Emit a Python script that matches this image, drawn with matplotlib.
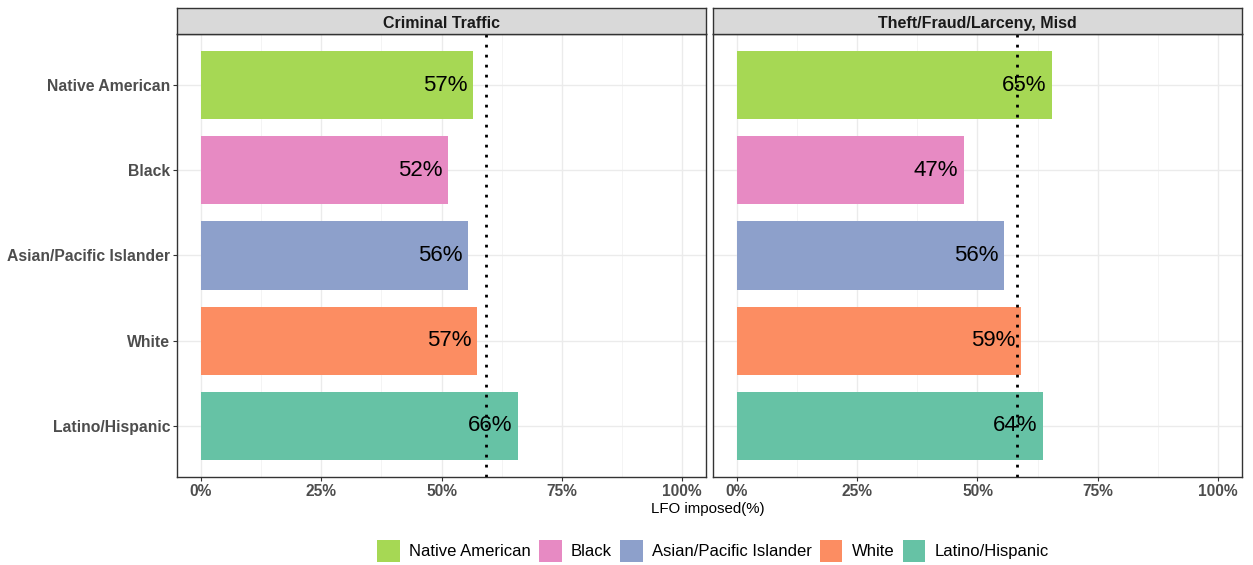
import matplotlib
matplotlib.use("Agg")
import matplotlib.pyplot as plt
from matplotlib.patches import Patch
from matplotlib.ticker import MultipleLocator

categories = ["Latino/Hispanic", "White", "Asian/Pacific Islander", "Black", "Native American"]
legend_order = ["Native American", "Black", "Asian/Pacific Islander", "White", "Latino/Hispanic"]
colors = {"Native American": "#A6D854", "Black": "#E78AC3",
          "Asian/Pacific Islander": "#8DA0CB", "White": "#FC8D62",
          "Latino/Hispanic": "#66C2A5"}
panels = ["Criminal Traffic", "Theft/Fraud/Larceny, Misd"]
values = {
    "Criminal Traffic": [65.9, 57.4, 55.5, 51.4, 56.6],
    "Theft/Fraud/Larceny, Misd": [63.7, 59.0, 55.6, 47.1, 65.4],
}
labels = {
    "Criminal Traffic": ["66%", "57%", "56%", "52%", "57%"],
    "Theft/Fraud/Larceny, Misd": ["64%", "59%", "56%", "47%", "65%"],
}
overall = {"Criminal Traffic": 59.2, "Theft/Fraud/Larceny, Misd": 58.3}
xticks = [0, 25, 50, 75, 100]
xticklabels = ["0%", "25%", "50%", "75%", "100%"]

W, H = 1253, 565
plt.rcParams['font.family'] = ['Liberation Sans', 'DejaVu Sans']
fig = plt.figure(figsize=(W / 100, H / 100), dpi=100)

panel_px = [(177, 706), (713, 1242)]
top_px, bot_px = 34, 477
strip_top = 8

for i, p in enumerate(panels):
    x0, x1 = panel_px[i]
    ax = fig.add_axes([x0 / W, 1 - bot_px / H, (x1 - x0) / W, (bot_px - top_px) / H])
    ypos = list(range(len(categories)))
    ax.barh(ypos, values[p], height=0.8, color=[colors[c] for c in categories], zorder=2)
    for y, v, lab in zip(ypos, values[p], labels[p]):
        ax.annotate(lab, (v, y), xytext=(-4, 0), textcoords="offset points",
                    ha="right", va="center", fontsize=16, color="black", zorder=4)
    ax.axvline(overall[p], color="black", linestyle=(0, (1, 2.6)), linewidth=2.0, zorder=3)
    ax.set_xlim(-5, 105)
    ax.set_ylim(-0.6, 4.6)
    ax.set_xticks(xticks)
    ax.set_xticklabels(xticklabels, fontsize=11.2, fontweight="bold", color="#4D4D4D")
    ax.xaxis.set_minor_locator(MultipleLocator(12.5))
    ax.set_yticks(ypos)
    ax.grid(True, which="major", color="#EBEBEB", linewidth=1.0, zorder=0)
    ax.grid(True, which="minor", axis="x", color="#F3F3F3", linewidth=0.6, zorder=0)
    ax.set_axisbelow(True)
    ax.tick_params(axis="both", which="major", color="#333333", length=3, width=0.8, pad=2)
    ax.tick_params(axis="x", which="minor", length=0)
    if i == 0:
        ax.set_yticklabels(categories, fontsize=11.3, fontweight="bold", color="#4D4D4D")
    else:
        ax.set_yticklabels([])
        ax.tick_params(axis="y", which="both", length=0)
    for s in ax.spines.values():
        s.set_color("#333333")
        s.set_linewidth(1.0)
    sax = fig.add_axes([x0 / W, 1 - top_px / H, (x1 - x0) / W, (top_px - strip_top) / H])
    sax.set_xticks([]); sax.set_yticks([])
    sax.set_facecolor("#D9D9D9")
    for s in sax.spines.values():
        s.set_color("#333333")
        s.set_linewidth(1.0)
    sax.text(0.5, 0.42, p, ha="center", va="center", fontsize=11.5, fontweight="bold",
             color="#1A1A1A", transform=sax.transAxes)

fig.text(708 / W, 1 - 509 / H, "LFO imposed(%)", ha="center", va="center", fontsize=10.8, color="black")

handles = [Patch(facecolor=colors[c], edgecolor="none", label=c) for c in legend_order]
fig.legend(handles=handles, loc="center", bbox_to_anchor=(713 / W, 1 - 551 / H), ncol=5,
           frameon=False, fontsize=12.0, handlelength=1.35, handleheight=1.6,
           handletextpad=0.57, columnspacing=0.48)

fig.savefig("out.png", dpi=100)
